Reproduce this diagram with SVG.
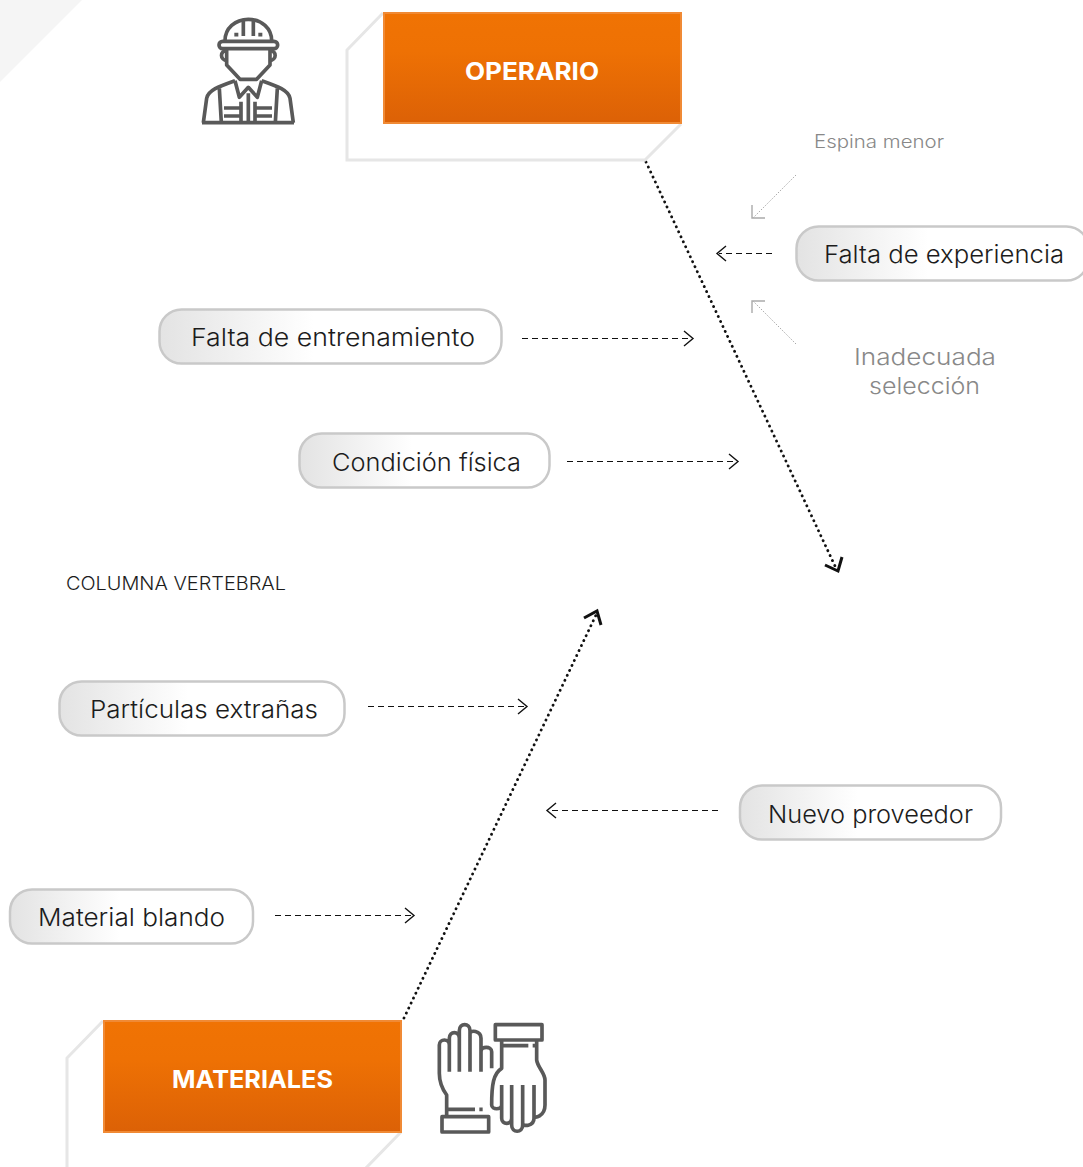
<svg xmlns="http://www.w3.org/2000/svg" width="1083" height="1167" viewBox="0 0 1083 1167">
<style>
text{font-family:"Inter","Noto Sans","Liberation Sans",sans-serif}
.lbl{font-size:24px;fill:#1c1c1c;text-anchor:start;font-weight:300}
.pill{fill:url(#pillGrad);stroke:#c9c9c9;stroke-width:2.5}
.box{fill:url(#boxGrad);stroke:#f08a35;stroke-width:2}
.frame{fill:none;stroke:#e6e6e6;stroke-width:3}
.head{font-size:24px;font-weight:700;fill:#fff;text-anchor:start}
.dash{fill:none;stroke:#111;stroke-width:1.2;stroke-dasharray:6 4}
.tip{fill:none;stroke:#111;stroke-width:1.4}
.spine{fill:none;stroke:#111;stroke-width:2.8;stroke-dasharray:0.1 5.4;stroke-linecap:round}
.spinetip{fill:none;stroke:#111;stroke-width:3}
.minor{fill:none;stroke:#aaa;stroke-width:1;stroke-dasharray:1.5 1.5}
.minortip{fill:none;stroke:#aaa;stroke-width:1.4}
.icon{fill:none;stroke:#595959;stroke-width:11;stroke-linejoin:round;stroke-linecap:butt}
</style>
<defs>
<linearGradient id="pillGrad" x1="0" y1="0" x2="1" y2="0"><stop offset="0" stop-color="#e3e3e3"/><stop offset="0.45" stop-color="#fff"/><stop offset="1" stop-color="#fff"/></linearGradient>
<linearGradient id="boxGrad" x1="0" y1="0" x2="0" y2="1"><stop offset="0" stop-color="#f07304"/><stop offset="0.35" stop-color="#ee7104"/><stop offset="1" stop-color="#dc6106"/></linearGradient>
</defs>
<polygon id="corner" points="0,0 82,0 0,82" fill="#f5f5f5"/>
<g id="connectors">
<path class="spine" d="M646,162L835,566"/>
<path class="spinetip" d="M825,565L838,571L842,557"/>
<path class="spine" d="M404,1018L596,615"/>
<path class="spinetip" d="M584,618L597,611L601,625"/>
<path class="dash" d="M522,338.500H692"/><path class="tip" d="M684,331L693,338.500L684,346"/>
<path class="dash" d="M567,461.500H737"/><path class="tip" d="M729,454L738,461.500L729,469"/>
<path class="dash" d="M772,253.500H719"/><path class="tip" d="M726,246L717,253.500L726,261"/>
<path class="dash" d="M368,706.500H526"/><path class="tip" d="M518,699L527,706.500L518,714"/>
<path class="dash" d="M718,810.500H549"/><path class="tip" d="M556,803L547,810.500L556,818"/>
<path class="dash" d="M275,915.500H413"/><path class="tip" d="M405,908L414,915.500L405,923"/>
<path class="minor" d="M796,175L753,218"/><path class="minortip" d="M752,205V218H765"/>
<path class="minor" d="M796,344L753,301"/><path class="minortip" d="M752,313V301H765"/>
</g>
<g id="operario">
<path class="frame" d="M383,13L347,50V160H645L681,124"/>
<rect class="box" x="384" y="13" width="297" height="110"/>
<text class="head" x="465" y="80" textLength="134" lengthAdjust="spacingAndGlyphs">OPERARIO</text>
</g>
<g id="operario-icon" transform="translate(180,0) scale(.33333)">
<path class="icon" d="M135,122C135,85 165,58 205,58C245,58 275,85 275,122"/>
<path class="icon" d="M190,60V108M220,60V108"/>
<rect class="icon" x="117" y="124" width="176" height="22" rx="11"/>
<path class="icon" d="M163,104H175M235,104H247"/>
<path class="icon" d="M140,148V195L180,238H230L270,195V148"/>
<path class="icon" d="M140,152C120,152 118,180 142,182M270,152C290,152 292,180 268,182"/>
<path class="icon" d="M70,368L80,295C84,270 120,258 165,242M340,368L330,295C326,270 290,258 245,242"/>
<path class="icon" d="M66,368H342"/>
<path class="icon" d="M165,242L178,292L205,262L232,292L245,242"/>
<path class="icon" d="M205,280V368M118,265L124,368M292,265L286,368"/>
<path class="icon" d="M132,324H183M132,348H183M225,324H276M225,348H276M183,305V368M225,305V368"/>
</g>
<g id="falta-experiencia"><rect class="pill" x="796.500" y="226.500" width="292" height="54" rx="22"/><text class="lbl" x="824" y="263" textLength="240" lengthAdjust="spacingAndGlyphs">Falta de experiencia</text></g>
<g id="falta-entrenamiento"><rect class="pill" x="159.500" y="309.500" width="342" height="54" rx="22"/><text class="lbl" x="191" y="346" textLength="284" lengthAdjust="spacingAndGlyphs">Falta de entrenamiento</text></g>
<g id="condicion-fisica"><rect class="pill" x="299.500" y="433.500" width="250" height="54" rx="22"/><text class="lbl" x="332" y="471" textLength="189" lengthAdjust="spacingAndGlyphs">Condición física</text></g>
<g id="particulas"><rect class="pill" x="59.500" y="681.500" width="285" height="54" rx="22"/><text class="lbl" x="90" y="718" textLength="228" lengthAdjust="spacingAndGlyphs">Partículas extrañas</text></g>
<g id="nuevo-proveedor"><rect class="pill" x="740" y="785.500" width="261" height="54" rx="22"/><text class="lbl" x="768" y="823" textLength="205" lengthAdjust="spacingAndGlyphs">Nuevo proveedor</text></g>
<g id="material-blando"><rect class="pill" x="10" y="889.500" width="243" height="54" rx="22"/><text class="lbl" x="38" y="926" textLength="187" lengthAdjust="spacingAndGlyphs">Material blando</text></g>
<g id="espina-menor"><text x="814" y="148" font-size="18" font-weight="300" fill="#888" textLength="130" lengthAdjust="spacingAndGlyphs">Espina menor</text></g>
<g id="inadecuada"><text x="854" y="365" font-size="23" font-weight="300" fill="#888" textLength="142" lengthAdjust="spacingAndGlyphs">Inadecuada</text><text x="869" y="394" font-size="23" font-weight="300" fill="#888" textLength="111" lengthAdjust="spacingAndGlyphs">selección</text></g>
<g id="columna"><text x="66" y="590" font-size="18" font-weight="300" fill="#1c1c1c" textLength="220" lengthAdjust="spacingAndGlyphs">COLUMNA VERTEBRAL</text></g>
<g id="materiales">
<path class="frame" d="M103,1021L67,1058V1170M401,1132L364,1170"/>
<rect class="box" x="104" y="1021" width="297" height="111"/>
<text class="head" x="172" y="1088" textLength="161" lengthAdjust="spacingAndGlyphs">MATERIALES</text>
</g>
<g id="materiales-icon" transform="translate(420,1010) scale(.33333)">
<path class="icon" d="M80,315V255C65,235 58,215 58,190V105C58,85 88,85 88,105V185M88,105V85C88,62 118,62 118,85V185M118,85V62C118,38 150,38 150,62V185M150,70C150,60 183,60 183,85V185M183,125C183,108 215,108 215,125V175"/>
<path class="icon" d="M80,298H165M178,298H188"/>
<rect class="icon" x="66" y="320" width="140" height="46"/>
<rect class="icon" x="226" y="44" width="140" height="46"/>
<path class="icon" d="M245,92V175C220,190 215,225 215,285C215,300 245,300 245,285V225M245,285V325C245,345 275,345 275,325V225M275,325V345C275,370 308,370 308,345V225M308,340C308,350 342,350 342,325V225M342,320C342,325 375,320 375,285V210C375,190 352,170 350,150V92"/>
<path class="icon" d="M245,107H325M338,107H350"/>
</g>
</svg>
